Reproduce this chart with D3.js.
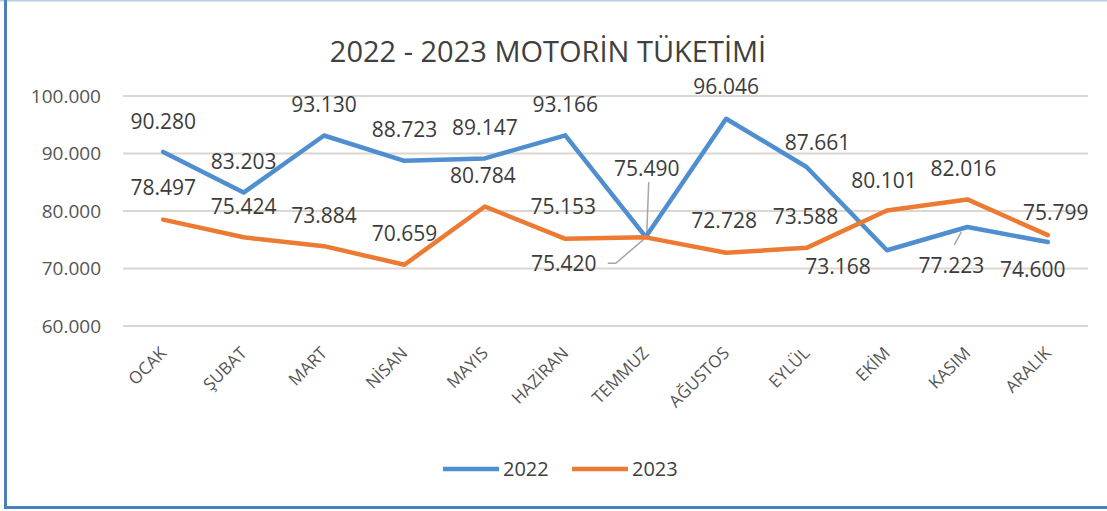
<!DOCTYPE html>
<meta charset="utf-8">

<head>
    <script src="https://d3js.org/d3.v7.min.js"></script>
    <style>
        body {
            margin: 0px;
            padding: 0px;
            background: #ffffff;
            font-family: 'Open Sans', sans-serif;
        }

        #chart {
            width: 1107px;
            height: 511px;
        }
    </style>
    <title>2022 - 2023 MOTORİN TÜKETİMİ</title>
</head>

<body>
    <div id="chart"></div>

    <script>
        // chart data
        var months = ["OCAK", "ŞUBAT", "MART", "NİSAN", "MAYIS", "HAZİRAN",
                      "TEMMUZ", "AĞUSTOS", "EYLÜL", "EKİM", "KASIM", "ARALIK"];

        var values2022 = [90280, 83203, 93130, 88723, 89147, 93166,
                          75490, 96046, 87661, 73168, 77223, 74600];

        var values2023 = [78497, 75424, 73884, 70659, 80784, 75153,
                          75420, 72728, 73588, 80101, 82016, 75799];

        var yTicks = [60000, 70000, 80000, 90000, 100000];

        var seriesNames = ["2022", "2023"];
        var seriesColors = ["#4f8fcf", "#ec7a33"];

        // where each data label sits relative to its point [dx, dy]
        var labelShift2022 = [[0, -30], [0, -31], [0, -31], [0, -31], [0, -31], [0, -31],
                              [1, -68], [0, -32], [11, -24], [-49, 16], [-16, 39], [-15, 28]];
        var labelShift2023 = [[0, -32], [0, -31], [0, -31], [0, -31], [-2, -31], [-2, -32],
                              [-82, 26], [-2, -32], [-1, -31], [-3, -30], [-4, -31], [8, -23]];

        var width = 1107,
            height = 511;

        var svg = d3.select("#chart").append("svg")
            .attr("width", width)
            .attr("height", height);

        // frame
        svg.append("rect")
            .attr("x", 0).attr("y", 0)
            .attr("width", width).attr("height", height)
            .style("fill", "#ffffff");
        svg.append("line")
            .attr("x1", 0).attr("x2", width).attr("y1", 0.5).attr("y2", 0.5)
            .style("stroke", "#b9cde6").style("stroke-width", 2);
        svg.append("line")
            .attr("x1", 5.5).attr("x2", 5.5).attr("y1", 0).attr("y2", 509)
            .style("stroke", "#4a7fc0").style("stroke-width", 3);
        svg.append("line")
            .attr("x1", 4).attr("x2", width).attr("y1", 507.5).attr("y2", 507.5)
            .style("stroke", "#4a7fc0").style("stroke-width", 3);

        // title
        svg.append("text")
            .attr("x", 548)
            .attr("y", 62)
            .attr("text-anchor", "middle")
            .style("font-size", "29px")
            .style("fill", "#404040")
            .text("2022 - 2023 MOTORİN TÜKETİMİ");

        // scales
        var x = d3.scaleBand()
            .domain(months)
            .range([123, 1088]);

        var y = d3.scaleLinear()
            .domain([60000, 100000])
            .range([326, 96]);

        var fmt = function (v) {
            return d3.format(",.3f")(v / 1000).replace(",", "");
        };

        // gridlines
        svg.append("g")
            .selectAll("line")
            .data(yTicks)
            .enter().append("line")
            .attr("x1", 123)
            .attr("x2", 1088)
            .attr("y1", function (d) { return y(d); })
            .attr("y2", function (d) { return y(d); })
            .style("stroke", "#dcd6d0")
            .style("stroke-width", 2);

        // y axis
        var yAxis = svg.append("g")
            .attr("transform", "translate(101,0)")
            .call(d3.axisLeft(y).tickValues(yTicks).tickSize(0).tickPadding(0)
                .tickFormat(function (d) { return d3.format(".3f")(d / 1000); }));
        yAxis.select(".domain").remove();
        yAxis.selectAll("text")
            .style("font-family", "'Open Sans', sans-serif")
            .style("font-size", "19px")
            .style("fill", "#555555");

        // x axis, rotated labels
        var xAxis = svg.append("g")
            .attr("transform", "translate(0,342)")
            .call(d3.axisBottom(x).tickSize(0).tickPadding(0));
        xAxis.select(".domain").remove();
        xAxis.selectAll("text")
            .attr("text-anchor", "end")
            .attr("dy", "0.35em")
            .attr("transform", "translate(0,8) rotate(-45)")
            .style("font-family", "'Open Sans', sans-serif")
            .style("font-size", "17px")
            .style("fill", "#555555");

        var line = d3.line()
            .x(function (d, i) { return x(months[i]) + x.bandwidth() / 2; })
            .y(function (d) { return y(d); });

        var allSeries = [values2022, values2023];
        var allShifts = [labelShift2022, labelShift2023];

        // leader lines for the moved labels
        var px = function (i) { return x(months[i]) + x.bandwidth() / 2; };
        var leaders = svg.append("g")
            .style("fill", "none")
            .style("stroke", "#a6a6a6")
            .style("stroke-width", 1.5);
        leaders.append("path")
            .attr("d", "M" + (px(6) + 3) + "," + (y(values2022[6]) + labelShift2022[6][1] + 13) +
                " L" + (px(6) + 1) + "," + (y(values2022[6]) - 2));
        leaders.append("path")
            .attr("d", "M" + (px(6) + labelShift2023[6][0] + 44) + "," + (y(values2023[6]) + labelShift2023[6][1]) +
                " L" + (px(6) - 30) + "," + (y(values2023[6]) + labelShift2023[6][1]) +
                " L" + (px(6) - 2) + "," + (y(values2023[6]) + 2));
        leaders.append("path")
            .attr("d", "M" + (px(10) - 13) + "," + (y(values2022[10]) + 18) +
                " L" + (px(10) - 6) + "," + (y(values2022[10]) + 5));

        // lines
        allSeries.forEach(function (vals, s) {
            svg.append("path")
                .datum(vals)
                .attr("d", line)
                .style("fill", "none")
                .style("stroke", seriesColors[s])
                .style("stroke-width", 4.5)
                .style("stroke-linejoin", "round")
                .style("stroke-linecap", "round");
        });

        // data labels
        allSeries.forEach(function (vals, s) {
            svg.append("g")
                .selectAll("text")
                .data(vals)
                .enter().append("text")
                .attr("x", function (d, i) { return px(i) + allShifts[s][i][0]; })
                .attr("y", function (d, i) { return y(d) + allShifts[s][i][1]; })
                .attr("dy", "0.35em")
                .attr("text-anchor", "middle")
                .style("font-size", "21px")
                .style("fill", "#3c3c3c")
                .text(fmt);
        });

        // legend
        var legend = svg.append("g").attr("transform", "translate(443,469)");
        seriesNames.forEach(function (name, s) {
            var g = legend.append("g").attr("transform", "translate(" + (s * 129) + ",0)");
            g.append("line")
                .attr("x1", 0).attr("x2", 56)
                .attr("y1", 0).attr("y2", 0)
                .style("stroke", seriesColors[s])
                .style("stroke-width", 4.5);
            g.append("text")
                .attr("x", 60)
                .attr("dy", "0.35em")
                .style("font-size", "20px")
                .style("fill", "#404040")
                .text(name);
        });
    </script>
</body>
